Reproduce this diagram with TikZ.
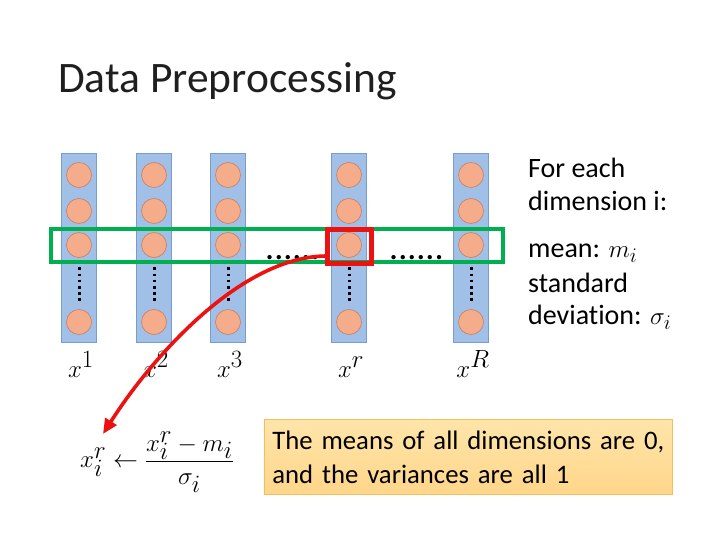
\documentclass[tikz,border=0pt]{standalone}
\usepackage{fontspec}
\setmainfont{Carlito}[Ligatures=NoCommon]
\usetikzlibrary{arrows.meta}
\definecolor{barfill}{RGB}{160,192,232}
\definecolor{barline}{RGB}{120,156,206}
\definecolor{dotfill}{RGB}{245,172,138}
\definecolor{dotline}{RGB}{205,125,95}
\definecolor{rowgreen}{RGB}{0,176,80}
\definecolor{selred}{RGB}{236,18,18}
\definecolor{notetop}{RGB}{255,229,170}
\definecolor{notebot}{RGB}{255,214,138}
\definecolor{noteline}{RGB}{246,190,90}
\begin{document}
\begin{tikzpicture}[x=1pt,y=-1pt,
  bar/.style={draw=barline, line width=0.8pt, fill=barfill, minimum width=35pt, minimum height=189pt, inner sep=0pt},
  unit/.style={circle, draw=dotline, line width=0.6pt, fill=dotfill, minimum size=25pt, inner sep=0pt},
  vdots/.style={draw=black, line width=3pt, dash pattern=on 2.6pt off 3.6pt},
  lab/.style={font=\fontsize{33}{33}\selectfont, anchor=base, inner sep=0pt},
  body/.style={font=\fontsize{28}{28}\selectfont, anchor=base west, inner sep=0pt},
  hdots/.style={font=\fontsize{36}{36}\selectfont, anchor=base west, inner sep=0pt},
  greenbox/.style={draw=rowgreen, line width=4pt, minimum width=452pt, minimum height=33pt, inner sep=0pt},
  redbox/.style={draw=selred, line width=5pt, minimum width=44pt, minimum height=34pt, inner sep=0pt},
  redarrow/.style={draw=selred, line width=3.6pt, -{Triangle[length=15pt,width=13pt]}},
  note/.style={draw=noteline, line width=0.8pt, top color=notetop, bottom color=notebot, minimum width=408pt, minimum height=75pt, text width=391pt, align=left, inner xsep=8.5pt, font=\fontsize{26.7}{34}\selectfont}
]
\useasboundingbox (0,0) rectangle (720,540);
\node[font=\fontsize{43.5}{43.5}\selectfont, anchor=base west, inner sep=0pt, text=black!88] (title) at (58,93) {Data Preprocessing};
\foreach \n/\x/\s in {a/79/1,b/154/2,c/228/3,r/349/r,R/471/R}{
  \node[bar] (bar\n) at (\x,247.5) {};
  \node[unit] (u\n1) at (\x,175) {};
  \node[unit] (u\n2) at (\x,211) {};
  \node[unit] (u\n3) at (\x,245) {};
  \node[unit] (u\n4) at (\x,322) {};
  \draw[vdots, shorten <=9.5pt, shorten >=8.5pt] (u\n3.south) -- (u\n4.north);
  \node[lab] (lab\n) at (\x+2,377) {$x^{\s}$};
}
\node[greenbox] (row) at (277,245.5) {};
\node[redbox] (sel) at (349.7,246.2) {};
\node[hdots] (dl) at (265,259) {......};
\node[hdots] (dr) at (389,259) {......};
\node[body] (t1) at (528,178) {For each};
\node[body] (t2) at (528,211) {dimension i:};
\node[body] (t3) at (528,257) {mean: $m_i$};
\node[body] (t4) at (528,292) {standard};
\node[body] (t5) at (528,324) {deviation: $\sigma_i$};
\node[note, anchor=north west] (box) at (263.5,419) {\mbox{The means of all dimensions are 0,}\\\mbox{and the variances are all 1}};
\node[font=\fontsize{34}{34}\selectfont, anchor=west, inner sep=0pt] (formula) at (80,462) {$x_i^r \leftarrow \displaystyle\frac{x_i^r - m_i}{\sigma_i}$};
\coordinate (start) at (327,256);
\coordinate (tip) at (103,434);
\draw[redarrow] (start) .. controls (240,256) and (150,360) .. (tip);
\end{tikzpicture}
\end{document}
